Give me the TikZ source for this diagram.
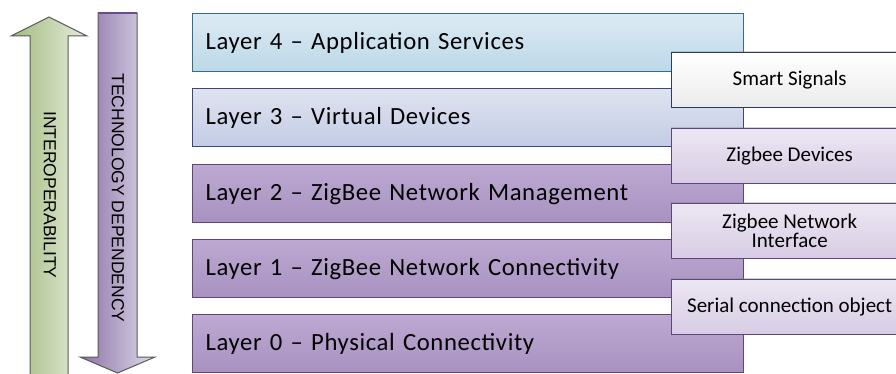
\documentclass[tikz,border=0pt]{standalone}
\usepackage{fontspec}
\setmainfont{Carlito}
\newfontfamily\arrowfont{Liberation Sans}
\newfontfamily\layerfont[LetterSpace=2.5]{Carlito}
\usetikzlibrary{shadows}
\definecolor{lfourtop}{HTML}{DCEBF4}
\definecolor{lfourbot}{HTML}{BCD8E8}
\definecolor{lfourdraw}{HTML}{2F6E8E}
\definecolor{lthreetop}{HTML}{DFE3F0}
\definecolor{lthreebot}{HTML}{C3CCE5}
\definecolor{lthreedraw}{HTML}{3A4878}
\definecolor{purtop}{HTML}{BDA9D2}
\definecolor{purbot}{HTML}{A891C0}
\definecolor{purdraw}{HTML}{5C4777}
\definecolor{smartdraw}{HTML}{2E3B5B}
\definecolor{sidetop}{HTML}{EDE7F3}
\definecolor{sidebot}{HTML}{D7CCE4}
\definecolor{greenleft}{HTML}{A3BA7F}
\definecolor{greenright}{HTML}{E5EDDB}
\definecolor{arrowdraw}{HTML}{595959}
\definecolor{purleft}{HTML}{8A73A6}
\definecolor{purright}{HTML}{E0DAEA}
\definecolor{purline}{HTML}{6A4C8C}
\tikzset{
  layerbox/.style={draw, line width=1.3pt, anchor=north west, minimum height=58pt,
    text width=525pt, inner xsep=13pt, align=left, font=\layerfont\fontsize{24.7}{26}\selectfont},
  lfour/.style={layerbox, top color=lfourtop, bottom color=lfourbot, draw=lfourdraw},
  lthree/.style={layerbox, top color=lthreetop, bottom color=lthreebot, draw=lthreedraw},
  lpur/.style={layerbox, top color=purtop, bottom color=purbot, draw=purdraw},
  sidebox/.style={draw, line width=1.3pt, anchor=north west, minimum width=236pt,
    minimum height=55pt, align=center, inner sep=0pt,
    font=\fontsize{21}{18}\selectfont,
    drop shadow={shadow xshift=-1pt, shadow yshift=1.5pt, opacity=0.35}},
  sidesmart/.style={sidebox, top color=white, bottom color=black!8, draw=smartdraw},
  sidepur/.style={sidebox, top color=sidetop, bottom color=sidebot, draw=purdraw},
  arrowtext/.style={font=\arrowfont\fontsize{17.5}{17}\selectfont, rotate=-90}
}
\begin{document}
\begin{tikzpicture}[x=1pt,y=-1pt]
\useasboundingbox (0,0) rectangle (896,374);
% arrows
\path[draw=arrowdraw, line width=1pt, left color=greenleft, right color=greenright]
  (30,376) -- (30,36) -- (11,36) -- (49,17) -- (87,36) -- (68,36) -- (68,376);
\path[draw=arrowdraw, line width=1pt, left color=purleft, right color=purright]
  (98,13) -- (98,357) -- (80,357) -- (117.5,373) -- (155,357) -- (137,357) -- (137,13) -- cycle;
\draw[purline, line width=2pt] (98,13) -- (137,13);
\node[arrowtext] (interop) at (50,195) {INTEROPERABILITY};
\node[arrowtext] (techdep) at (118,198) {TECHNOLOGY DEPENDENCY};
% layers
\node[lfour]  (L4) at (192,13)  {Layer 4 – Application Services};
\node[lthree] (L3) at (192,88)  {Layer 3 – Virtual Devices};
\node[lpur]   (L2) at (192,164) {Layer 2 – ZigBee Network Management};
\node[lpur]   (L1) at (192,239) {Layer 1 – ZigBee Network Connectivity};
\node[lpur]   (L0) at (192,314) {Layer 0 – Physical Connectivity};
% side boxes
\node[sidesmart] (S) at (671,52)  {Smart Signals};
\node[sidepur]   (D) at (671,128) {Zigbee Devices};
\node[sidepur]   (N) at (671,203) {Zigbee Network\\Interface};
\node[sidepur]   (C) at (671,279) {Serial connection object};
\end{tikzpicture}
\end{document}
